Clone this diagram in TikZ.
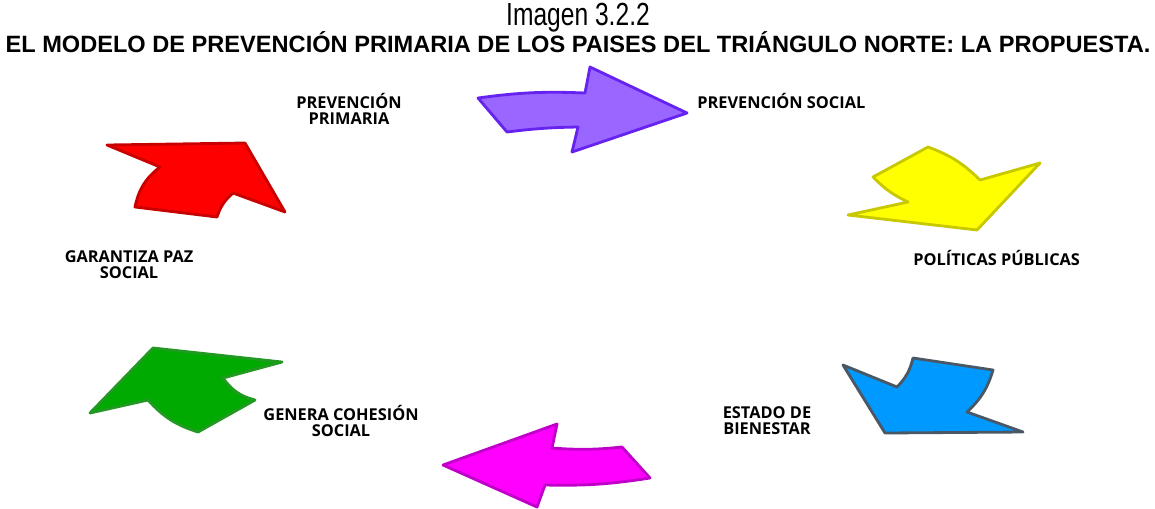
\documentclass[tikz,border=0pt]{standalone}
\usepackage{fontspec}
\setmainfont{Liberation Sans}
\newfontfamily\lblfont{Open Sans}
\usepackage{graphicx}
\definecolor{purF}{HTML}{9966FF}\definecolor{purD}{HTML}{6622EE}
\definecolor{yelF}{HTML}{FFFF00}\definecolor{yelD}{HTML}{C8C800}
\definecolor{bluF}{HTML}{0099FF}\definecolor{bluD}{HTML}{4A5866}
\definecolor{magF}{HTML}{FF00FF}\definecolor{magD}{HTML}{C000C8}
\definecolor{grnF}{HTML}{00AA00}\definecolor{grnD}{HTML}{229922}
\definecolor{redF}{HTML}{FF0000}\definecolor{redD}{HTML}{C80000}
\begin{document}
\begin{tikzpicture}[x=0.02cm,y=-0.02cm,
  arrowshape/.style={line width=1.6pt,line join=round},
  lbl/.style={font=\lblfont\bfseries\fontsize{9.3}{9.2}\selectfont,align=center,inner sep=0pt}]
\useasboundingbox[fill=white] (0,0) rectangle (1155,508);
% title
\node (t1) at (578,18) {\scalebox{1}[1.3]{\fontsize{14}{15}\selectfont Imagen 3.2.2}};
\node (t2) at (578,42) {\resizebox{22.9cm}{!}{\bfseries EL MODELO DE PREVENCIÓN PRIMARIA DE LOS PAISES DEL TRIÁNGULO NORTE: LA PROPUESTA.}};
% purple
\draw[arrowshape,fill=purF,draw=purD] (478,98) to[bend left=5] (585,93) -- (590,67) -- (687,113) -- (572,152) -- (578,127) to[bend right=3] (507,132) -- cycle;
% yellow
\draw[arrowshape,fill=yelF,draw=yelD] (928,147) to[bend left=12] (980,180) -- (1040,163) -- (977,230) -- (848,215) -- (908,202) to[bend left=10] (873,177) -- cycle;
% blue
\draw[arrowshape,fill=bluF,draw=bluD] (843,365) -- (897,387) to[bend right=15] (913,358) -- (993,370) to[bend left=15] (967,412) -- (1023,432) -- (885,433) -- cycle;
% magenta
\draw[arrowshape,fill=magF,draw=magD] (443,465) -- (557,424) -- (552,448) to[bend right=5] (622,447) -- (650,478) to[bend left=5] (545,485) -- (537,507) -- cycle;
% green
\draw[arrowshape,fill=grnF,draw=grnD] (90,413) -- (153,348) -- (282,362) -- (223,378) to[bend right=20] (255,400) -- (198,432) to[bend left=15] (148,400) -- cycle;
% red
\draw[arrowshape,fill=redF,draw=redD] (107,145) -- (245,143) -- (285,212) -- (233,193) to[bend right=15] (217,217) -- (135,207) to[bend left=20] (160,167) -- cycle;
% labels
\node[lbl] (l1) at (349,109) {PREVENCIÓN\\PRIMARIA};
\node[lbl,anchor=west] (l2) at (697,101) {PREVENCIÓN SOCIAL};
\node[lbl,anchor=west] (l3) at (913,258) {POLÍTICAS PÚBLICAS};
\node[lbl] (l4) at (767,421) {ESTADO DE\\BIENESTAR};
\node[lbl] (l5) at (341,421) {GENERA COHESIÓN\\SOCIAL};
\node[lbl] (l6) at (129,265) {GARANTIZA PAZ\\SOCIAL};
\end{tikzpicture}
\end{document}
